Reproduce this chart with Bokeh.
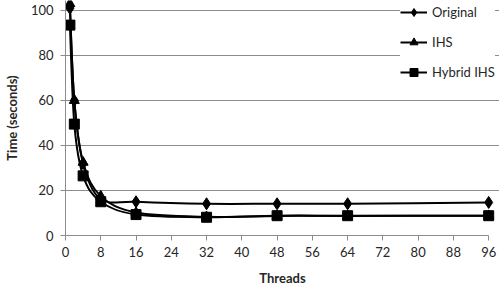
import numpy as np
from bokeh.plotting import figure
from bokeh.models import Range1d, FixedTicker, Legend, LegendItem
from bokeh.embed import file_html
from bokeh.resources import INLINE

threads = [1, 2, 4, 8, 16, 32, 48, 64, 96]
original = [101, 60, 32, 16.2, 15.0, 14.1, 14.1, 14.1, 14.7]
ihs = [103, 60, 32.5, 17.5, 10.2, 8.3, 8.7, 8.7, 8.8]
hybrid = [93.5, 49.5, 26.5, 15.0, 9.3, 8.1, 8.8, 8.8, 8.8]
series_names = ["Original", "IHS", "Hybrid IHS"]
markers = ["diamond", "triangle", "square"]
x_ticks = [0, 8, 16, 24, 32, 40, 48, 56, 64, 72, 80, 88, 96]
y_ticks = [0, 20, 40, 60, 80, 100]

FONT = "Lato"
TXT = "#262626"
GRID = "#8c8c8c"

p = figure(width=499, height=295, output_backend="svg", toolbar_location=None,
           x_range=Range1d(0, 98.456), y_range=Range1d(0, 104.44),
           min_border_left=58, min_border_right=0, min_border_top=0,
           min_border_bottom=60)
p.outline_line_color = None
p.background_fill_color = "white"
p.border_fill_color = "white"

for ax in (p.xaxis[0], p.yaxis[0]):
    ax.axis_line_color = GRID
    ax.axis_line_width = 1
    ax.major_tick_line_color = GRID
    ax.major_tick_out = 5
    ax.major_tick_in = 0
    ax.minor_tick_line_color = None
    ax.major_label_text_font = FONT
    ax.major_label_text_font_size = "13px"
    ax.major_label_text_color = TXT
    ax.axis_label_text_font = FONT
    ax.axis_label_text_font_style = "bold"
    ax.axis_label_text_font_size = "13px"
    ax.axis_label_text_color = TXT

p.xaxis.bounds = (0, 96)
p.xaxis.ticker = FixedTicker(ticks=x_ticks)
p.yaxis.ticker = FixedTicker(ticks=y_ticks)
p.xaxis.axis_label = "Threads"
p.yaxis.axis_label = "Time (seconds)"
p.xaxis.major_label_standoff = 6
p.yaxis.major_label_standoff = 7
p.xaxis.axis_label_standoff = 10
p.yaxis.axis_label_standoff = 8
p.xgrid.grid_line_color = None
p.ygrid.grid_line_color = GRID
p.ygrid.grid_line_width = 1
p.ygrid.bounds = (0, 96)


def smooth_segments(xs, ys):
    xs = np.asarray(xs, float)
    ys = np.asarray(ys, float)
    n = len(xs)
    out = {k: [] for k in ("x0", "y0", "x1", "y1", "cx0", "cy0", "cx1", "cy1")}
    for i in range(n - 1):
        im1 = max(i - 1, 0)
        ip2 = min(i + 2, n - 1)
        out["x0"].append(xs[i]); out["y0"].append(ys[i])
        out["x1"].append(xs[i + 1]); out["y1"].append(ys[i + 1])
        out["cx0"].append(xs[i] + (xs[i + 1] - xs[im1]) / 6)
        out["cy0"].append(ys[i] + (ys[i + 1] - ys[im1]) / 6)
        out["cx1"].append(xs[i + 1] - (xs[ip2] - xs[i]) / 6)
        out["cy1"].append(ys[i + 1] - (ys[ip2] - ys[i]) / 6)
    return out


items = []
for name, ys, mk in zip(series_names, [original, ihs, hybrid], markers):
    seg = smooth_segments(threads, ys)
    p.bezier(line_color="black", line_width=2, **seg)
    size = {"diamond": 12, "triangle": 10, "square": 10}[mk]
    sc = p.scatter(threads, ys, marker=mk, size=size, fill_color="black",
                   line_color="black")
    dummy = p.line([np.nan], [np.nan], line_color="black", line_width=2)
    items.append(LegendItem(label=name, renderers=[dummy, sc]))

legend = Legend(items=items, location=(335, 153), orientation="vertical",
                label_text_font=FONT, label_text_font_size="13px",
                label_text_color=TXT, glyph_width=27, glyph_height=20,
                label_standoff=5, spacing=10, padding=0, margin=0,
                border_line_color=None, background_fill_color="white",
                background_fill_alpha=1.0)
p.add_layout(legend, "center")

open("out.html", "w").write(file_html(p, INLINE))
